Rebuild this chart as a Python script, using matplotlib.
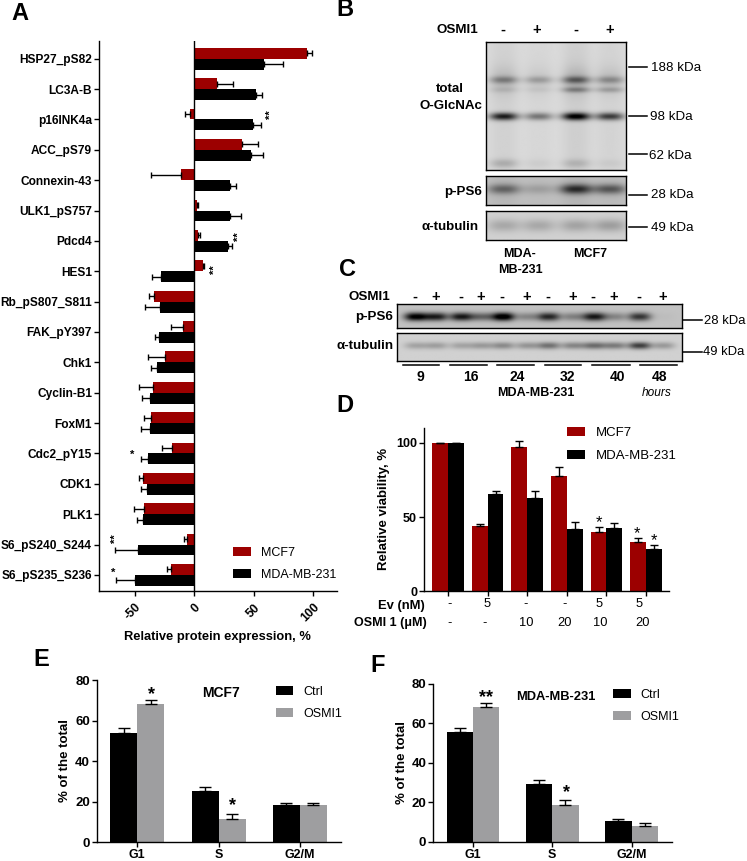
import numpy as np
import matplotlib
matplotlib.use("Agg")
import matplotlib.pyplot as plt

plt.rcParams['font.family'] = ['Liberation Sans', 'DejaVu Sans']

W, H = 747, 861
RED = "#9c0000"
GREY = "#9e9ea0"

# panel A, relative protein expression
proteins = ["HSP27_pS82", "LC3A-B", "p16INK4a", "ACC_pS79", "Connexin-43", "ULK1_pS757",
            "Pdcd4", "HES1", "Rb_pS807_S811", "FAK_pY397", "Chk1", "Cyclin-B1",
            "FoxM1", "Cdc2_pY15", "CDK1", "PLK1", "S6_pS240_S244", "S6_pS235_S236"]
a_mcf7 = [95.2, 19.4, -3.9, 40.4, -10.7, 2, 3, 7, -33.7, -9.8, -24.4, -35, -36.5, -18.3, -42.7, -41.9, -6.2, -19.4]
a_mcf7_err = [3.4, 13.5, 4.2, 13.3, 25.5, 1, 1.8, 1.4, 4.5, 9.3, 14.1, 11.6, 5.9, 8.7, 3.6, 8.7, 2.2, 3.4]
a_mda = [58.7, 51.7, 49.2, 47.5, 30, 30, 28, -27.8, -28.7, -29.5, -30.9, -36.8, -37.4, -39, -39.6, -42.7, -47.2, -50]
a_mda_err = [16, 5.3, 6.7, 10.1, 5.1, 9.6, 3.5, 7.3, 12.3, 3.1, 5.1, 6.7, 7.3, 5.7, 5.1, 5.1, 19.1, 15.7]
a_xticks = [-50, 0, 50, 100]

# panel D, viability
d_ev = ["-", "5", "-", "-", "5", "5"]
d_osmi = ["-", "-", "10", "20", "10", "20"]
d_mcf7 = [100, 44, 97.5, 77.5, 40, 33]
d_mcf7_err = [0, 1.6, 3.8, 6.5, 3.4, 3]
d_mda = [100, 65.6, 63, 42, 42.7, 28.5]
d_mda_err = [0, 2.3, 4.9, 4.5, 3.6, 2.5]

# panels E and F, cell cycle
phases = ["G1", "S", "G2/M"]
e_ctrl = [54.2, 25.2, 18.3]
e_ctrl_err = [2.3, 2, 1.1]
e_osmi = [68.3, 11.4, 18.4]
e_osmi_err = [2, 2.6, 1]
f_ctrl = [55.7, 29.1, 10.4]
f_ctrl_err = [2, 2, 1.4]
f_osmi = [68.2, 18.7, 8.3]
f_osmi_err = [2, 2.7, 1.3]

# blot band darkness per lane
b_band_188 = [0.26, 0.18, 0.36, 0.22]
b_band_150 = [0.07, 0.04, 0.26, 0.17]
b_band_98 = [0.72, 0.38, 0.86, 0.60]
b_band_low = [0.15, 0.04, 0.12, 0.04]
b_smear = [0.10, 0.06, 0.13, 0.09]
b_lane_tone = [0.04, 0.02, 0.05, 0.03]
b_ps6 = [0.34, 0.12, 0.56, 0.40]
b_tub = [0.16, 0.16, 0.18, 0.20]
c_ps6 = [0.80, 0.66, 0.68, 0.38, 0.86, 0.24, 0.62, 0.26, 0.68, 0.24, 0.56, 0.02]
c_tub = [0.18, 0.20, 0.18, 0.22, 0.28, 0.24, 0.38, 0.30, 0.40, 0.34, 0.58, 0.22]
c_hours = ["9", "16", "24", "32", "40", "48"]

fig = plt.figure(figsize=(W / 100, H / 100), dpi=100)


def axpx(x0, y0, x1, y1):
    return fig.add_axes([x0 / W, 1 - y1 / H, (x1 - x0) / W, (y1 - y0) / H])


def txt(x, y, s, size=8.6, weight="bold", ha="center", **kw):
    fig.text(x / W, 1 - y / H, s, fontsize=size, fontweight=weight, ha=ha, va="center", **kw)


def hline(x0, x1, y, lw=1.1):
    fig.add_artist(plt.Line2D([x0 / W, x1 / W], [1 - y / H, 1 - y / H], color="black", lw=lw))


def style(ax):
    ax.spines["top"].set_visible(False)
    ax.spines["right"].set_visible(False)
    ax.spines["left"].set_linewidth(1.0)
    ax.spines["bottom"].set_linewidth(1.0)
    ax.tick_params(width=1.0, length=3.5, pad=1.5)


def legend(ax, x, y, size=9):
    fig.legend(*ax.get_legend_handles_labels(), loc="upper left", frameon=False,
               bbox_to_anchor=(x / W, 1 - y / H), borderpad=0, borderaxespad=0, prop={"size": size},
               handlelength=1.4, handleheight=0.7, handletextpad=0.8, labelspacing=0.8)


def blot(box, lanes, rows, bg, lane_w=0.1):
    # rows: (y fraction, y sigma fraction, darkness for each lane)
    ax = axpx(*box)
    nx, ny = int((box[2] - box[0]) * 2), int((box[3] - box[1]) * 2)
    xx, yy = np.meshgrid(np.linspace(0, 1, nx), np.linspace(0, 1, ny))
    img = np.full((ny, nx), bg, dtype=float)
    for yf, ys, dark in rows:
        for lane, d in zip(lanes, dark):
            img -= d * np.exp(-(np.abs(xx - lane) / lane_w) ** 2.6) * np.exp(-((yy - yf) / ys) ** 2)
    ax.imshow(np.clip(img, 0, 1), cmap="gray", vmin=0, vmax=1, aspect="auto", interpolation="bilinear")
    ax.set_xticks([])
    ax.set_yticks([])
    for sp in ax.spines.values():
        sp.set_linewidth(1.0)
    return ax


# A
ax = axpx(99, 41, 337, 591)
ypos = np.arange(len(proteins))
a_mcf7_arr = np.array(a_mcf7)
a_mda_arr = np.array(a_mda)
ax.barh(ypos - 0.18, a_mcf7, 0.36, color=RED, label="MCF7")
ax.barh(ypos + 0.18, a_mda, 0.36, color="black", label="MDA-MB-231")
for vals, errs, off in [(a_mcf7_arr, a_mcf7_err, -0.18), (a_mda_arr, a_mda_err, 0.18)]:
    errs = np.array(errs)
    ax.errorbar(vals, ypos + off, xerr=[np.where(vals < 0, errs, 0), np.where(vals > 0, errs, 0)],
                fmt="none", ecolor="black", elinewidth=1.0, capsize=2.2, capthick=1.0)
ax.axvline(0, color="black", lw=1.0)
ax.set_xlim(-80, 120)
ax.set_ylim(17.53, -0.583)
ax.set_yticks(ypos)
ax.set_yticklabels(proteins, fontweight="bold", fontsize=8.6)
ax.set_xticks(a_xticks)
ax.set_xticklabels(a_xticks, fontweight="bold", fontsize=8.8, rotation=45, ha="right", rotation_mode="anchor")
style(ax)
ax.tick_params(axis="x", pad=4)
for y, x, s, rot in [(1.83, 64.5, "**", 90), (5.86, 37.5, "**", 90), (6.96, 17, "**", 90),
                     (13.05, -52.5, "*", 0), (15.8, -66, "**", 90), (16.94, -68, "*", 0)]:
    ax.text(x, y, s, fontsize=8, fontweight="bold", ha="center", va="center", rotation=rot)
legend(ax, 233, 547)
txt(217, 637, "Relative protein expression, %", size=9.25)

# B
b_lanes = [0.126, 0.374, 0.64, 0.88]
blot((485.7, 42.3, 625.7, 170), b_lanes,
     [(0.295, 0.028, b_band_188), (0.373, 0.022, b_band_150), (0.582, 0.03, b_band_98),
      (0.95, 0.035, b_band_low), (0.30, 0.11, b_smear), (0.5, 2.0, b_lane_tone)], 0.86)
blot((485.7, 175.7, 626.3, 205.3), b_lanes, [(0.47, 0.17, b_ps6), (0.5, 2.0, b_lane_tone)], 0.76, 0.115)
blot((485.7, 211.3, 626.3, 240.3), b_lanes, [(0.5, 0.22, b_tub)], 0.82, 0.115)
txt(478.7, 30, "OSMI1", ha="right", size=9.6)
for lane_x, s in zip([503.3, 537, 575.7, 610], ["-", "+", "-", "+"]):
    txt(lane_x, 30, s, size=10.5)
txt(450, 88.7, "total", size=9.6)
txt(482, 105.7, "O-GlcNAc", ha="right", size=9.6)
txt(482, 191.7, "p-PS6", ha="right", size=9.6)
txt(478.7, 226.7, "α-tubulin", ha="right", size=9.6)
for y_line, y_txt, x_txt, s in [(67.3, 68.3, 650.7, "188 kDa"), (116.3, 117.3, 650, "98 kDa"),
                                (154.3, 155.7, 649.3, "62 kDa"), (194.7, 195.3, 650.7, "28 kDa"),
                                (227.3, 228.3, 650.7, "49 kDa")]:
    hline(628.5, 646.8, y_line)
    txt(x_txt, y_txt, s, size=9.6, weight="normal", ha="left")
txt(520, 254.3, "MDA-", size=9)
txt(520, 270, "MB-231", size=9)
txt(590, 254, "MCF7", size=9)

# C
c_lane_px = np.array([226, 287, 362, 423, 487, 560, 624, 697, 760, 822, 896, 968]) / 3 + 340
c_lanes = (c_lane_px - 396.7) / 285
blot((396.7, 304, 681.7, 328.3), c_lanes, [(0.55, 0.17, c_ps6)], 0.76, 0.04)
blot((396.7, 333.3, 681.7, 360.7), c_lanes, [(0.45, 0.13, c_tub)], 0.82, 0.04)
txt(390.7, 296.7, "OSMI1", ha="right", size=9.6)
for lane_x, s in zip(c_lane_px, ["-", "+"] * 6):
    txt(lane_x, 296.5, s, size=10.5)
txt(393.3, 317.3, "p-PS6", ha="right", size=9.6)
txt(393.3, 345.7, "α-tubulin", ha="right", size=9.6)
for (x0, x1), x_lab, s in zip([(188, 298), (330, 440), (472, 582), (614, 723), (755, 870), (900, 1012)],
                              [241, 393, 531, 681, 832, 958], c_hours):
    hline(x0 / 3 + 340, x1 / 3 + 340, 365)
    txt(x_lab / 3 + 340, 377, s, size=10)
txt(536, 392.7, "MDA-MB-231", size=9)
txt(656.7, 392.7, "hours", size=8.6, weight="normal", style="italic")
hline(683, 701.7, 320)
hline(683, 701.7, 352.3)
txt(704.3, 321, "28 kDa", size=9.4, weight="normal", ha="left")
txt(703, 352, "49 kDa", size=9.4, weight="normal", ha="left")

# D
ax = axpx(424, 427.7, 669, 591.3)
xpos = np.arange(len(d_ev))
ax.bar(xpos - 0.2, d_mcf7, 0.4, color=RED, label="MCF7")
ax.bar(xpos + 0.2, d_mda, 0.4, color="black", label="MDA-MB-231")
ax.errorbar(xpos - 0.2, d_mcf7, yerr=[np.zeros(6), d_mcf7_err], fmt="none", ecolor="black",
            elinewidth=1.0, capsize=2.8, capthick=1.0)
ax.errorbar(xpos + 0.2, d_mda, yerr=[np.zeros(6), d_mda_err], fmt="none", ecolor="black",
            elinewidth=1.0, capsize=2.8, capthick=1.0)
ax.set_xlim(-0.606, 5.58)
ax.set_ylim(0, 110.3)
ax.set_xticks(xpos)
ax.set_xticklabels([])
ax.set_yticks([0, 50, 100])
ax.set_yticklabels([0, 50, 100], fontweight="bold", fontsize=9)
style(ax)
ax.set_zorder(2)
for x, y in [(3.8, 41.3), (4.77, 33.8), (5.2, 28.8)]:
    ax.text(x, y, "*", fontsize=12, ha="center", va="bottom")
legend(ax, 566.7, 427, size=9.5)
txt(384, 509, "Relative viability, %", rotation=90, size=9.5)
txt(425, 605.5, "Ev (nM)", ha="right", size=9.4)
txt(426.7, 622.7, "OSMI 1 (μM)", ha="right", size=9)
for x, s in zip([268, 382, 497, 615, 718, 836], d_ev):
    txt(x / 3 + 360, 604, s, size=9.3, weight="normal")
for x, s in zip([268, 375, 498, 615, 720, 848], d_osmi):
    txt(x / 3 + 360, 622.7, s, size=9.3, weight="normal")


# E, F
def cycle_panel(box, ctrl, ctrl_err, osmi, osmi_err, x_first, spacing):
    ax = axpx(*box)
    xpos = np.arange(3)
    ax.bar(xpos - 0.166, ctrl, 0.332, color="black", label="Ctrl")
    ax.bar(xpos + 0.166, osmi, 0.332, color=GREY, label="OSMI1")
    ax.errorbar(xpos - 0.166, ctrl, yerr=[np.zeros(3), ctrl_err], fmt="none", ecolor="black",
                elinewidth=1.0, capsize=4.6, capthick=1.0)
    ax.errorbar(xpos + 0.166, osmi, yerr=[np.zeros(3), osmi_err], fmt="none", ecolor="black",
                elinewidth=1.0, capsize=4.6, capthick=1.0)
    ax.set_xlim((box[0] - x_first) / spacing, (box[2] - x_first) / spacing)
    ax.set_ylim(0, 80)
    ax.set_xticks(xpos)
    ax.set_xticklabels(phases, fontweight="bold", fontsize=9)
    ax.set_yticks([0, 20, 40, 60, 80])
    ax.set_yticklabels([0, 20, 40, 60, 80], fontweight="bold", fontsize=9.5)
    style(ax)
    return ax


ax = cycle_panel((96.7, 680.3, 341, 842.3), e_ctrl, e_ctrl_err, e_osmi, e_osmi_err, 137.3, 81.3)
legend(ax, 275.7, 686)
txt(221, 693.3, "MCF7", size=10)
txt(65, 761, "% of the total", rotation=90, size=9.5)
txt(152, 695, "*", size=13)
txt(232.7, 806, "*", size=13)

ax = cycle_panel((433.3, 683.7, 671.7, 842), f_ctrl, f_ctrl_err, f_osmi, f_osmi_err, 473, 79.3)
legend(ax, 613.3, 689)
txt(556, 696.7, "MDA-MB-231", size=9.3)
txt(401.7, 762.5, "% of the total", rotation=90, size=9.5)
txt(486.3, 698, "**", size=13)
txt(566.7, 793, "*", size=13)

# panel letters
for x, y, s in [(20, 14, "A"), (345, 10, "B"), (347, 270, "C"), (345, 405, "D"), (41, 659, "E"), (378, 665, "F")]:
    txt(x, y, s, size=17)

fig.savefig("out.png", dpi=100)
